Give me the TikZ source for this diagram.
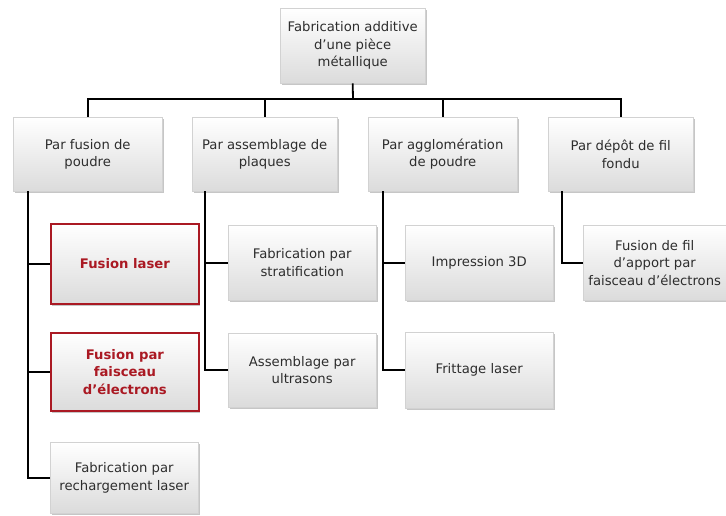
\documentclass[tikz,border=0pt]{standalone}
\usepackage{fontspec}
\setmainfont{DejaVu Sans}
\usepackage{tikz}
\usetikzlibrary{positioning, shadows}

\definecolor{texte}{RGB}{45,45,45}
\definecolor{rouge}{RGB}{170,25,35}

\tikzset{
    boite/.style={draw=gray!35, rectangle, anchor=north west, align=center, inner sep=2pt,
        top color=white, bottom color=gray!28, text=texte,
        font=\fontsize{13.2}{17.5}\selectfont,
        drop shadow={shadow xshift=1.5pt, shadow yshift=-2pt, opacity=0.45}},
    choix/.style={boite, draw=rouge, line width=1.8pt, text=rouge,
        font=\fontsize{13.2}{17.5}\selectfont\bfseries},
    lien/.style={draw=black, line width=1.8pt}
}

\begin{document}
\begin{tikzpicture}[x=1pt, y=-1pt]
        \useasboundingbox (0,0) rectangle (726,516);

        \node (racine) [boite, minimum width=145pt, minimum height=75pt] at (280,8) {Fabrication additive\\d'une pièce\\métallique};

        % premier niveau
        \node (fusion) [boite, minimum width=149pt, minimum height=74pt] at (13,117) {Par fusion de\\poudre};
        \node (plaques) [boite, minimum width=145pt, minimum height=74pt] at (192,117) {Par assemblage de\\plaques};
        \node (agglo) [boite, minimum width=149pt, minimum height=74pt] at (368,117) {Par agglomération\\de poudre};
        \node (depot) [boite, minimum width=145pt, minimum height=74pt] at (548,117) {Par dépôt de fil\\fondu};

        % second niveau
        \node (laser) [choix, minimum width=148pt, minimum height=80pt] at (50,223) {Fusion laser};
        \node (faisceau) [choix, minimum width=148pt, minimum height=78pt] at (50,332) {Fusion par\\faisceau\\d'électrons};
        \node (recharge) [boite, minimum width=148pt, minimum height=71pt] at (50,442) {Fabrication par\\rechargement laser};
        \node (strat) [boite, minimum width=148pt, minimum height=75pt] at (228,225) {Fabrication par\\stratification};
        \node (ultra) [boite, minimum width=148pt, minimum height=74pt] at (228,333) {Assemblage par\\ultrasons};
        \node (impr) [boite, minimum width=148pt, minimum height=75pt] at (405,225) {Impression 3D};
        \node (fritt) [boite, minimum width=148pt, minimum height=76pt] at (405,332) {Frittage laser};
        \node (fil) [boite, minimum width=143pt, minimum height=75pt] at (583,225) {Fusion de fil\\d'apport par\\faisceau d'électrons};

        \coordinate (bus) at (353,99);
        \draw[lien] (racine.south) -- (bus);
        \draw[lien] (fusion.north) |- (bus) -| (depot.north);
        \draw[lien] (plaques.north) -- (plaques.north |- bus);
        \draw[lien] (agglo.north) -- (agglo.north |- bus);

        \draw[lien] ([xshift=15pt]fusion.south west) |- (recharge.west);
        \draw[lien] ([xshift=15pt]fusion.south west) |- (laser.west);
        \draw[lien] ([xshift=15pt]fusion.south west) |- (faisceau.west);
        \draw[lien] ([xshift=13pt]plaques.south west) |- (ultra.west);
        \draw[lien] ([xshift=13pt]plaques.south west) |- (strat.west);
        \draw[lien] ([xshift=15pt]agglo.south west) |- (fritt.west);
        \draw[lien] ([xshift=15pt]agglo.south west) |- (impr.west);
        \draw[lien] ([xshift=14pt]depot.south west) |- (fil.west);
    \end{tikzpicture}
\end{document}
